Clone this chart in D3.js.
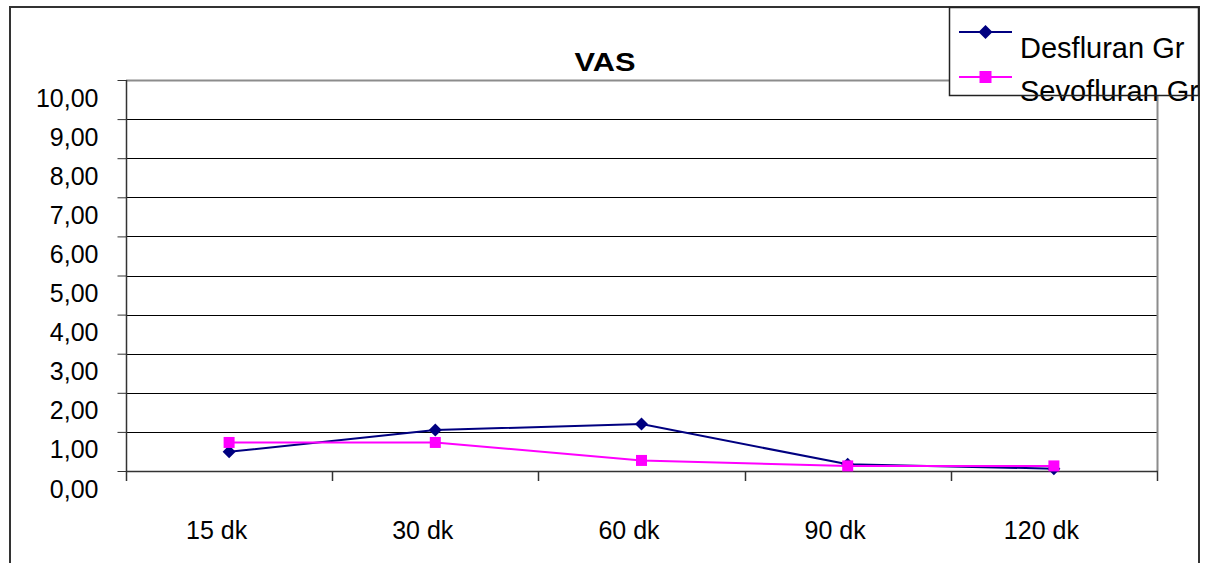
<!DOCTYPE html>
<html>
<head>
<meta charset="utf-8">
<script src="https://cdn.jsdelivr.net/npm/d3@7"></script>
<style>
  html, body { margin: 0; padding: 0; background: #fff; }
  svg { display: block; font-family: "Liberation Sans", Arial, sans-serif; }
</style>
</head>
<body>
<svg id="chart" width="1206" height="563"></svg>
<script>
// Time points after surgery
const categories = ["15 dk", "30 dk", "60 dk", "90 dk", "120 dk"];
// Mean VAS scores per group
const desfluran = [0.49, 1.05, 1.20, 0.17, 0.06];
const sevofluran = [0.73, 0.73, 0.27, 0.13, 0.13];
const seriesNames = ["Desfluran Gr", "Sevofluran Gr"];
const yTicks = [0, 1, 2, 3, 4, 5, 6, 7, 8, 9, 10];
const chartTitle = "VAS";

const svg = d3.select("#chart");
const plot = { left: 126, right: 1157, top: 80, bottom: 471 };

const x = d3.scaleBand().domain(categories).range([plot.left, plot.right]).paddingInner(0).paddingOuter(0);
const y = d3.scaleLinear().domain([0, 10]).range([plot.bottom, plot.top]);
const fmt = v => d3.format(".2f")(v).replace(".", ",");

// outer chart frame
svg.append("rect")
  .attr("x", 10).attr("y", 7).attr("width", 1189).attr("height", 620)
  .attr("fill", "#fff").attr("stroke", "#333").attr("stroke-width", 2);

// horizontal gridlines
svg.append("g").selectAll("line")
  .data(yTicks.filter(v => v > 0 && v < 10))
  .join("line")
  .attr("x1", plot.left).attr("x2", plot.right)
  .attr("y1", d => Math.round(y(d)) + 0.5).attr("y2", d => Math.round(y(d)) + 0.5)
  .attr("stroke", "#000").attr("stroke-width", 1);

// plot area border (top and right)
svg.append("path")
  .attr("d", `M${plot.left},${y(10) + 0.5}H${plot.right + 0.5}V${plot.bottom}`)
  .attr("fill", "none").attr("stroke", "#8c8c8c").attr("stroke-width", 2);

// y axis
const yAxis = svg.append("g")
  .attr("transform", `translate(${plot.left + 0.5},0)`)
  .call(d3.axisLeft(y).tickValues(yTicks).tickSize(9).tickSizeOuter(0).tickFormat(fmt));
yAxis.select(".domain").remove();
yAxis.selectAll(".tick line").attr("stroke", "#333").attr("stroke-width", 1);
yAxis.selectAll(".tick text")
  .attr("x", -28).attr("dy", null).attr("y", 26)
  .attr("font-size", 25).attr("fill", "#000")
  .attr("font-family", "'Liberation Sans', Arial, sans-serif");
svg.append("line")
  .attr("x1", plot.left + 0.5).attr("x2", plot.left + 0.5)
  .attr("y1", y(10)).attr("y2", plot.bottom + 10)
  .attr("stroke", "#333").attr("stroke-width", 1.5);

// x axis
svg.append("line")
  .attr("x1", plot.left).attr("x2", plot.right + 1)
  .attr("y1", plot.bottom + 0.5).attr("y2", plot.bottom + 0.5)
  .attr("stroke", "#333").attr("stroke-width", 1.5);
const edges = categories.map(c => x(c)).concat([x.range()[1]]);
svg.append("g").selectAll("line")
  .data(edges.slice(1))
  .join("line")
  .attr("x1", d => Math.round(d) + 0.5).attr("x2", d => Math.round(d) + 0.5)
  .attr("y1", plot.bottom).attr("y2", plot.bottom + 10)
  .attr("stroke", "#333").attr("stroke-width", 1.5);
svg.append("g").selectAll("text")
  .data(categories)
  .join("text")
  .attr("x", d => x(d) + x.bandwidth() / 2 - 12.5)
  .attr("y", 539)
  .attr("text-anchor", "middle")
  .attr("font-size", 25)
  .text(d => d);

// title
svg.append("text")
  .attr("x", 605).attr("y", 71)
  .attr("text-anchor", "middle")
  .attr("font-size", 25).attr("font-weight", "bold")
  .attr("textLength", 61).attr("lengthAdjust", "spacingAndGlyphs")
  .text(chartTitle);

// markers
const diamond = s => `M0,${-s}L${s},0L0,${s}L${-s},0Z`;
const square = s => `M${-s},${-s}H${s}V${s}H${-s}Z`;

const series = [
  { name: seriesNames[0], values: desfluran, color: "#000080", marker: diamond(6.5) },
  { name: seriesNames[1], values: sevofluran, color: "#FF00FF", marker: square(5.5) }
];

const line = d3.line().x((d, i) => x(categories[i]) + x.bandwidth() / 2).y(d => y(d));

series.forEach(s => {
  const g = svg.append("g");
  g.append("path")
    .attr("d", line(s.values))
    .attr("fill", "none").attr("stroke", s.color).attr("stroke-width", 2);
  g.selectAll("path.m")
    .data(s.values)
    .join("path")
    .attr("class", "m")
    .attr("transform", (d, i) => `translate(${x(categories[i]) + x.bandwidth() / 2},${y(d)})`)
    .attr("d", s.marker)
    .attr("fill", s.color);
});

// legend
const legend = svg.append("g");
legend.append("rect")
  .attr("x", 949.5).attr("y", 7.5).attr("width", 249).attr("height", 88)
  .attr("fill", "#fff");
const legendRows = [32, 77];
const legendBase = [58, 101];
series.forEach((s, i) => {
  legend.append("line")
    .attr("x1", 959).attr("x2", 1012)
    .attr("y1", legendRows[i]).attr("y2", legendRows[i])
    .attr("stroke", s.color).attr("stroke-width", 2);
  legend.append("path")
    .attr("transform", `translate(985.5,${legendRows[i]})`)
    .attr("d", i === 0 ? diamond(7) : square(6))
    .attr("fill", s.color);
  legend.append("text")
    .attr("x", 1020).attr("y", legendBase[i])
    .attr("font-size", 29)
    .text(s.name);
});
legend.append("rect")
  .attr("x", 949.5).attr("y", 7.5).attr("width", 249).attr("height", 88)
  .attr("fill", "none").attr("stroke", "#222").attr("stroke-width", 1.5);
</script>
</body>
</html>
